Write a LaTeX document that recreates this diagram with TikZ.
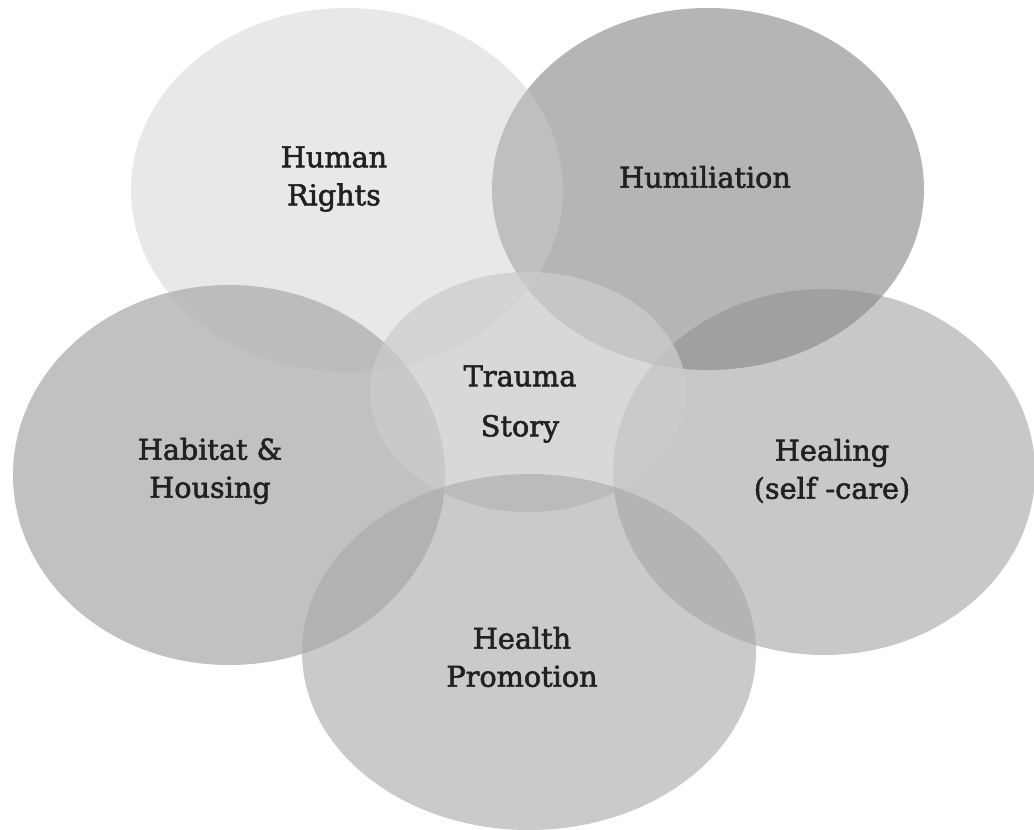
\documentclass[tikz,border=0pt]{standalone}
\usepackage{fontspec}
\setmainfont{DejaVu Serif}
\newfontfamily\lblfont{DejaVu Serif}[FakeBold=2]
\definecolor{shadeA}{gray}{0.71}
\definecolor{shadeB}{gray}{0.80}
\definecolor{shadeC}{gray}{0.70}
\definecolor{shadeD}{gray}{0.53}
\definecolor{shadeE}{gray}{0.80}
\definecolor{shadeF}{gray}{0.66}
\definecolor{inktext}{gray}{0.13}
\begin{document}
\begin{tikzpicture}[x=0.75pt,y=-0.75pt,
  blob/.style={fill=#1},
  lbl/.style={text=inktext, font=\lblfont\fontsize{21.5}{28.5}\selectfont, align=center, inner sep=0pt},
  lblwide/.style={lbl, font=\lblfont\fontsize{21.5}{37.5}\selectfont}]
\useasboundingbox (0,0) rectangle (1034,830);
\fill[white] (0,0) rectangle (1034,830);

% overlapping ellipses, back to front
\fill[blob=shadeA] (708,189) ellipse [x radius=216, y radius=181];
\fill[blob=shadeB, fill opacity=0.45] (347,190) ellipse [x radius=216, y radius=182];
\fill[blob=shadeC, fill opacity=0.8] (229,475) ellipse [x radius=216, y radius=190];
\fill[blob=shadeD, fill opacity=0.45] (824,472) ellipse [x radius=211, y radius=183];
\fill[blob=shadeE, fill opacity=0.75] (528,392) ellipse [x radius=158, y radius=120];
\fill[blob=shadeF, fill opacity=0.6] (529,652) ellipse [x radius=227, y radius=178];

% labels
\node[lbl] (rights) at (334,179) {Human\\Rights};
\node[lbl] (humil) at (705,177) {Humiliation};
\node[lblwide] (trauma) at (520,404) {Trauma\\Story};
\node[lbl] (habitat) at (210,471) {Habitat \&\\Housing};
\node[lbl] (healing) at (832,471) {Healing\\(self -care)};
\node[lbl] (health) at (522,657) {Health\\Promotion};
\end{tikzpicture}
\end{document}
